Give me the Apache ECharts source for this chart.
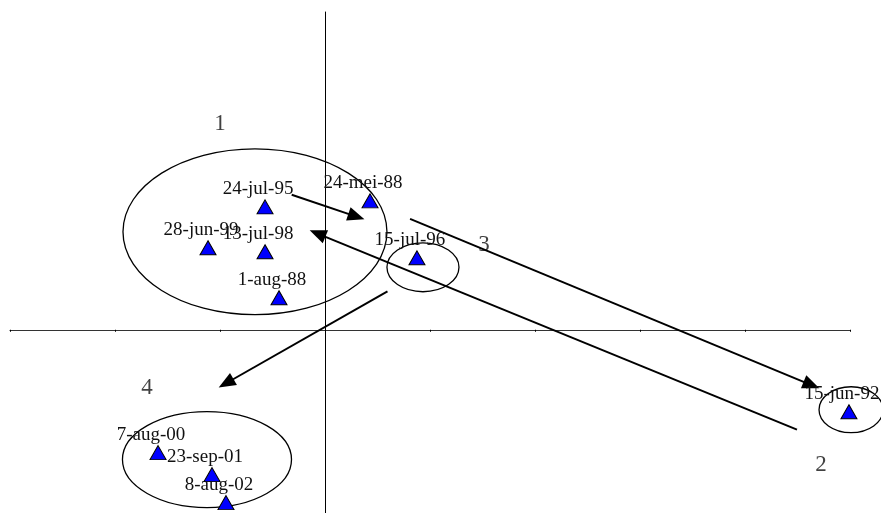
<!DOCTYPE html>
<html>
<head>
<meta charset="utf-8">
<script src="https://cdn.jsdelivr.net/npm/echarts@6/dist/echarts.min.js"></script>
<style>
    html, body {margin: 0; padding: 0; background: #ffffff;}
    #main {width: 881px; height: 513px;}
</style>
</head>
<body>
<div id="main"></div>
<script>
// 数据点（日期标签 + 坐标）
const pointNames = ['24-jul-95', '24-mei-88', '28-jun-99', '13-jul-98', '1-aug-88',
    '15-jul-96', '15-jun-92', '7-aug-00', '23-sep-01', '8-aug-02'];
const pointX = [-0.571, 0.429, -1.114, -0.571, -0.438, 0.876, 4.990, -1.590, -1.076, -0.943];
const pointY = [1.160, 1.217, 0.774, 0.736, 0.302, 0.679, -0.774, -1.160, -1.368, -1.632];

// 分组编号
const groupNames = ['1', '2', '3', '4'];
const groupX = [-1.000, 4.724, 1.514, -1.695];
const groupY = [1.944, -1.274, 0.802, -0.547];

// 分组椭圆（中心 + 半径，数据单位）
const ellipseCx = [-0.667, 5.010, 0.933, -1.124];
const ellipseCy = [0.925, -0.755, 0.590, -1.226];
const ellipseRx = [1.257, 0.305, 0.343, 0.805];
const ellipseRy = [0.783, 0.217, 0.231, 0.453];

// 箭头（起点 -> 终点）
const arrowFrom = [[-0.317, 1.274], [4.495, -0.943], [0.810, 1.047], [0.595, 0.363]];
const arrowTo = [[0.299, 1.068], [-0.071, 0.908], [4.633, -0.522], [-0.942, -0.505]];

// 坐标轴范围
const xMin = -3, xMax = 5, yMin = -1.73, yMax = 3;

const serifFont = '"Liberation Serif", "DejaVu Serif", serif';

const myChart = echarts.init(document.getElementById('main'));

const option = {
    animation: false,
    backgroundColor: '#ffffff',
    grid: {left: 10, top: 12, width: 840, bottom: 0},
    xAxis: {
        type: 'value', min: xMin, max: xMax, interval: 1,
        axisLine: {lineStyle: {color: '#333', width: 1.2}},
        axisTick: {show: true, length: 2, lineStyle: {color: '#000'}},
        axisLabel: {show: false},
        splitLine: {show: false}
    },
    yAxis: {
        type: 'value', min: yMin, max: yMax,
        axisLine: {lineStyle: {color: '#000', width: 1}},
        axisTick: {show: false},
        axisLabel: {show: false},
        splitLine: {show: false}
    },
    series: [
        {
            type: 'scatter',
            symbol: 'triangle',
            symbolSize: [16, 14],
            z: 5,
            itemStyle: {color: '#0000ff', borderColor: '#000', borderWidth: 1, opacity: 1},
            label: {
                show: true, position: 'top', distance: 1, offset: [-7, 0],
                formatter: p => p.name,
                fontFamily: serifFont, fontSize: 19, color: '#111'
            },
            data: pointNames.map((n, i) => ({name: n, value: [pointX[i], pointY[i]]})),
            markLine: {
                silent: true,
                symbol: ['none', 'triangle'],
                symbolSize: [14, 17],
                label: {show: false},
                lineStyle: {color: '#000', width: 2, type: 'solid'},
                itemStyle: {color: '#000'},
                data: arrowFrom.map((f, i) => [{coord: f}, {coord: arrowTo[i]}])
            }
        },
        {
            //分组编号
            type: 'scatter',
            symbolSize: 1,
            itemStyle: {color: 'rgba(0,0,0,0)'},
            label: {
                show: true, position: 'inside',
                formatter: p => p.name,
                fontFamily: serifFont, fontSize: 23, color: '#111'
            },
            data: groupNames.map((n, i) => ({name: n, value: [groupX[i], groupY[i]]}))
        }
    ]
};
myChart.setOption(option);

// 椭圆用 graphic 画，坐标从数据单位换算成像素
const ellipses = ellipseCx.map((cx, i) => {
    const c = myChart.convertToPixel({gridIndex: 0}, [cx, ellipseCy[i]]);
    const e = myChart.convertToPixel({gridIndex: 0}, [cx + ellipseRx[i], ellipseCy[i] + ellipseRy[i]]);
    return {
        type: 'ellipse',
        silent: true,
        z: 3,
        shape: {cx: c[0], cy: c[1], rx: Math.abs(e[0] - c[0]), ry: Math.abs(c[1] - e[1])},
        style: {fill: 'none', stroke: '#000', lineWidth: 1.3}
    };
});
myChart.setOption({graphic: ellipses});
</script>
</body>
</html>
